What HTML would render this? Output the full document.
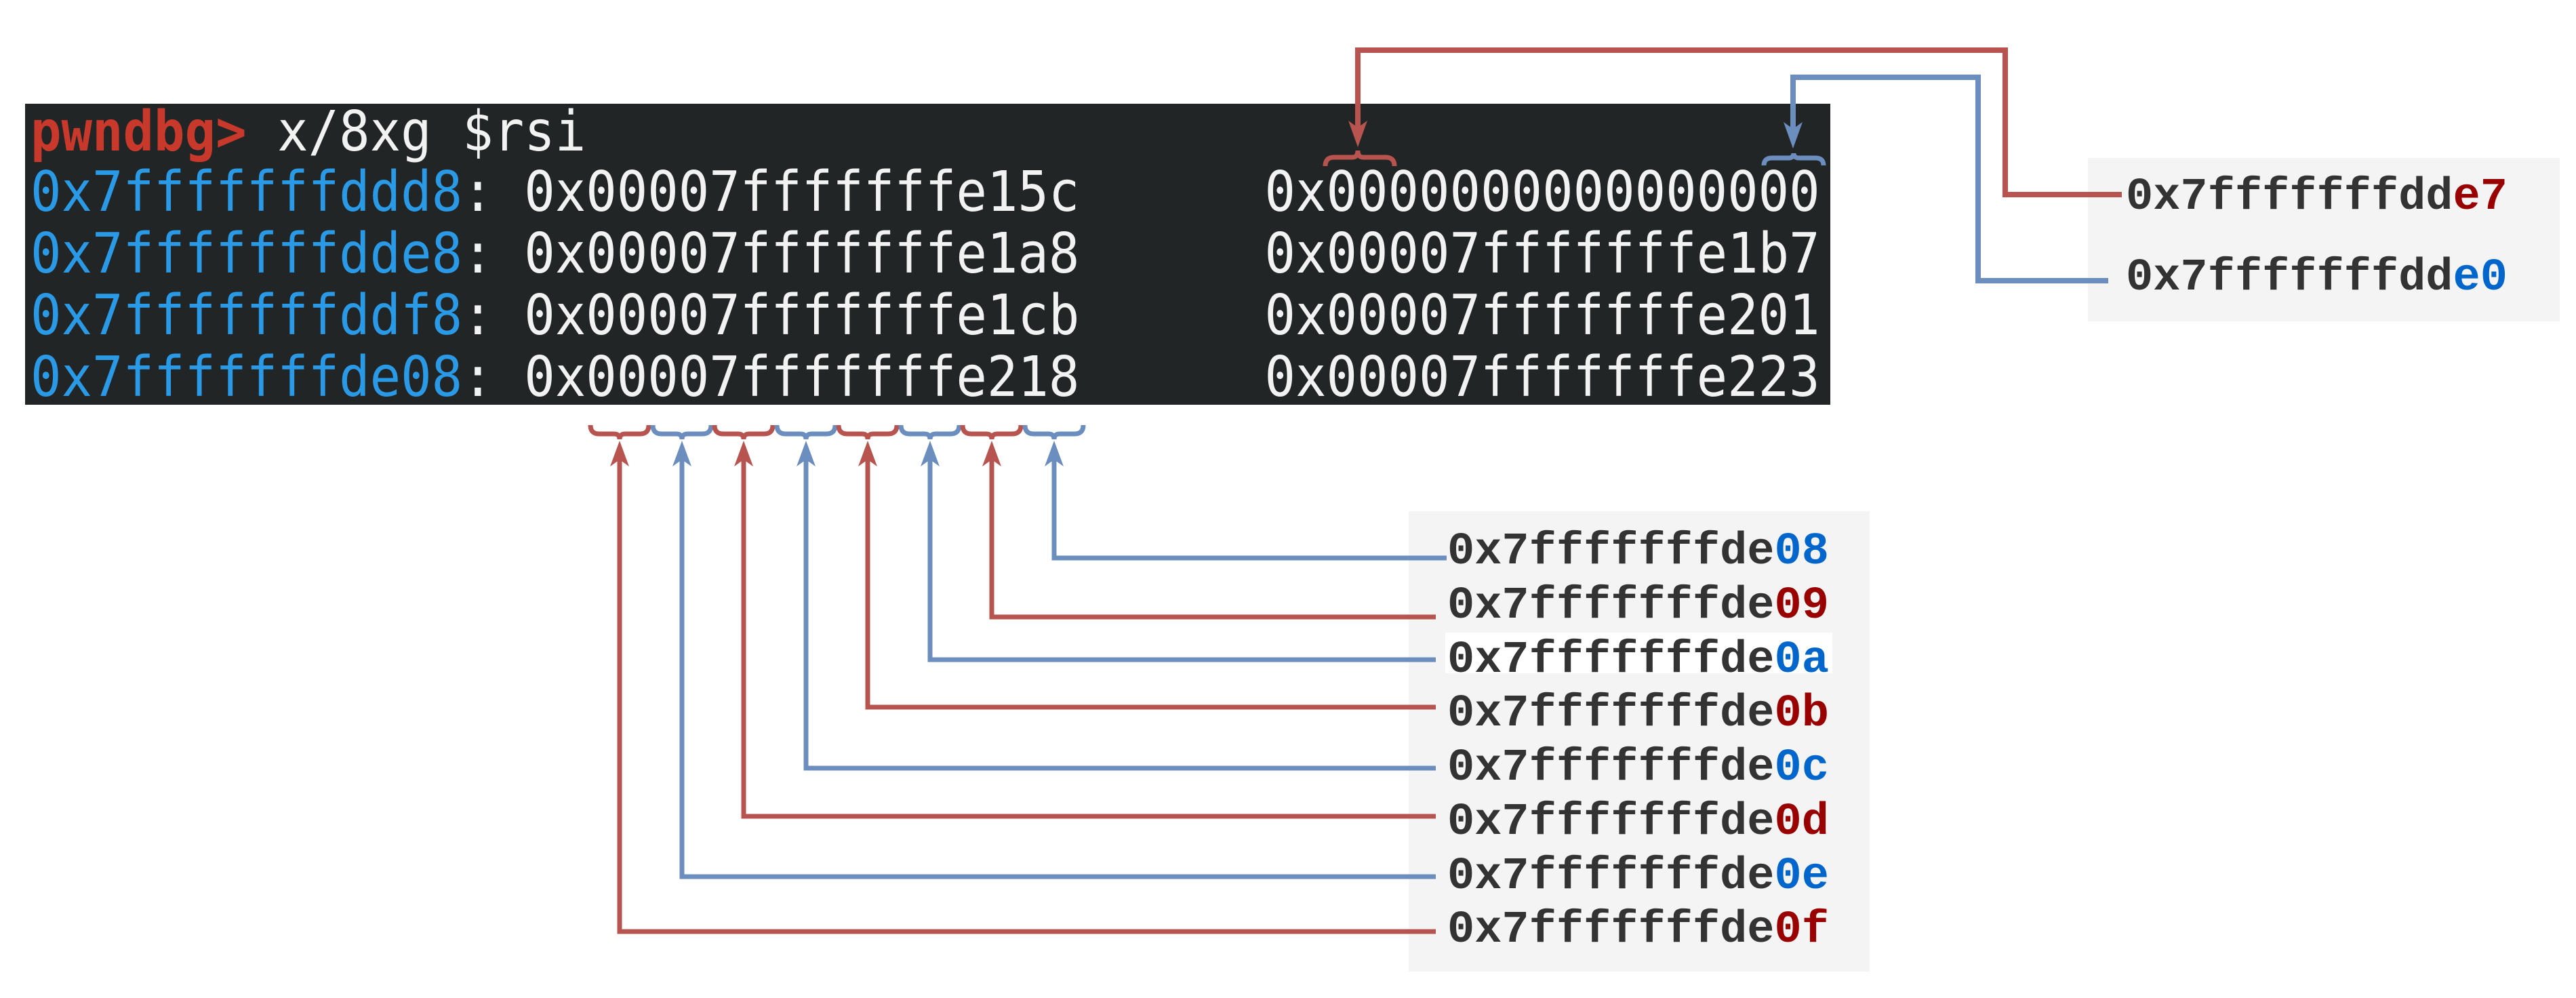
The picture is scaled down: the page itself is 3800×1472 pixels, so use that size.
<!DOCTYPE html>
<html><head><meta charset="utf-8"><style>
html,body{margin:0;padding:0;background:#fff;width:3800px;height:1472px;overflow:hidden;position:relative}
.term{position:absolute;left:37px;top:153px;width:2663px;height:444px;background:#222526}
.tl{position:absolute;left:45px;font-family:"DejaVu Sans Mono",monospace;font-size:75.6px;white-space:pre;color:#f2f2f2;line-height:1;transform:scale(1,1.08);transform-origin:0 0}
.b{color:#2a9ae6}.r{color:#c8392b;font-weight:bold}
.box{position:absolute;background:#f4f4f4}
.lab{position:absolute;font-family:"Liberation Mono",monospace;font-weight:bold;font-size:67px;color:#333;white-space:pre;line-height:1}
.dr{color:#990000}.db{color:#0066cc}
svg{position:absolute;left:0;top:0}
</style></head><body>
<div class="term"></div>
<div class="tl" style="top:154px"><span class="r">pwndbg&gt;</span> x/8xg $rsi</div>
<div class="tl" style="top:243px"><span class="b">0x7fffffffddd8</span>: 0x00007fffffffe15c      0x0000000000000000</div>
<div class="tl" style="top:334px"><span class="b">0x7fffffffdde8</span>: 0x00007fffffffe1a8      0x00007fffffffe1b7</div>
<div class="tl" style="top:425px"><span class="b">0x7fffffffddf8</span>: 0x00007fffffffe1cb      0x00007fffffffe201</div>
<div class="tl" style="top:516px"><span class="b">0x7fffffffde08</span>: 0x00007fffffffe218      0x00007fffffffe223</div>

<div class="box" style="left:3080px;top:233px;width:696px;height:241px"></div>
<div class="lab" style="left:3136px;top:258px">0x7fffffffdd<span class="dr">e7</span></div>
<div class="lab" style="left:3136px;top:377px">0x7fffffffdd<span class="db">e0</span></div>

<div class="box" style="left:2078px;top:754px;width:680px;height:679px"></div>
<div style="position:absolute;left:2132px;top:933px;width:571px;height:60px;background:#fff"></div>
<div class="lab" style="left:2135px;top:781px">0x7fffffffde<span class="db">08</span></div>
<div class="lab" style="left:2135px;top:861px">0x7fffffffde<span class="dr">09</span></div>
<div class="lab" style="left:2135px;top:941px">0x7fffffffde<span class="db">0a</span></div>
<div class="lab" style="left:2135px;top:1020px">0x7fffffffde<span class="dr">0b</span></div>
<div class="lab" style="left:2135px;top:1100px">0x7fffffffde<span class="db">0c</span></div>
<div class="lab" style="left:2135px;top:1180px">0x7fffffffde<span class="dr">0d</span></div>
<div class="lab" style="left:2135px;top:1260px">0x7fffffffde<span class="db">0e</span></div>
<div class="lab" style="left:2135px;top:1339px">0x7fffffffde<span class="dr">0f</span></div>

<svg width="3800" height="1472" viewBox="0 0 3800 1472">
<g fill="none" stroke-width="8">
<path d="M3130 287 H2958 V74 H2003 V205" stroke="#b85450"/>
<path d="M3110 414 H2918 V114 H2645 V205" stroke="#6c8ebf"/>
<path d="M1955 245 Q1955 232 1968 232 H1995 Q2003 232 2003 222 Q2003 232 2011 232 H2044 Q2057 232 2057 245" stroke="#b85450" stroke-width="7"/>
<path d="M2602 244 Q2602 233 2614 233 H2638 Q2646 233 2646 226 Q2646 233 2654 233 H2678 Q2690 233 2690 244" stroke="#6c8ebf" stroke-width="7"/>
</g>
<path d="M2003 217 L1989 178 L2003 188 L2017 178 Z" fill="#b85450"/>
<path d="M2645 219 L2631 180 L2645 190 L2659 180 Z" fill="#6c8ebf"/>
<g fill="none" stroke-width="7">
<path d="M914 670 V1374 H2118" stroke="#b85450"/>
<path d="M1006 670 V1293 H2118" stroke="#6c8ebf"/>
<path d="M1097 670 V1204 H2118" stroke="#b85450"/>
<path d="M1189 670 V1133 H2118" stroke="#6c8ebf"/>
<path d="M1280 670 V1043 H2118" stroke="#b85450"/>
<path d="M1372 670 V973 H2118" stroke="#6c8ebf"/>
<path d="M1463 670 V910 H2118" stroke="#b85450"/>
<path d="M1555 670 V823 H2134" stroke="#6c8ebf"/>
</g>
<g fill="none" stroke-width="7">
<path d="M871 627 Q871 640 884 640 H906 Q914 640 914 648 Q914 640 922 640 H944 Q957 640 957 627" stroke="#b85450"/>
<path d="M963 627 Q963 640 976 640 H998 Q1006 640 1006 648 Q1006 640 1014 640 H1036 Q1049 640 1049 627" stroke="#6c8ebf"/>
<path d="M1054 627 Q1054 640 1067 640 H1089 Q1097 640 1097 648 Q1097 640 1105 640 H1127 Q1140 640 1140 627" stroke="#b85450"/>
<path d="M1146 627 Q1146 640 1159 640 H1181 Q1189 640 1189 648 Q1189 640 1197 640 H1219 Q1232 640 1232 627" stroke="#6c8ebf"/>
<path d="M1237 627 Q1237 640 1250 640 H1272 Q1280 640 1280 648 Q1280 640 1288 640 H1310 Q1323 640 1323 627" stroke="#b85450"/>
<path d="M1329 627 Q1329 640 1342 640 H1364 Q1372 640 1372 648 Q1372 640 1380 640 H1402 Q1415 640 1415 627" stroke="#6c8ebf"/>
<path d="M1420 627 Q1420 640 1433 640 H1455 Q1463 640 1463 648 Q1463 640 1471 640 H1493 Q1506 640 1506 627" stroke="#b85450"/>
<path d="M1512 627 Q1512 640 1525 640 H1547 Q1555 640 1555 648 Q1555 640 1563 640 H1585 Q1598 640 1598 627" stroke="#6c8ebf"/>
</g>
<g>
<path d="M914 650 L900 688 L914 678 L928 688 Z" fill="#b85450"/>
<path d="M1006 650 L992 688 L1006 678 L1020 688 Z" fill="#6c8ebf"/>
<path d="M1097 650 L1083 688 L1097 678 L1111 688 Z" fill="#b85450"/>
<path d="M1189 650 L1175 688 L1189 678 L1203 688 Z" fill="#6c8ebf"/>
<path d="M1280 650 L1266 688 L1280 678 L1294 688 Z" fill="#b85450"/>
<path d="M1372 650 L1358 688 L1372 678 L1386 688 Z" fill="#6c8ebf"/>
<path d="M1463 650 L1449 688 L1463 678 L1477 688 Z" fill="#b85450"/>
<path d="M1555 650 L1541 688 L1555 678 L1569 688 Z" fill="#6c8ebf"/>
</g>
</svg>
</body></html>
